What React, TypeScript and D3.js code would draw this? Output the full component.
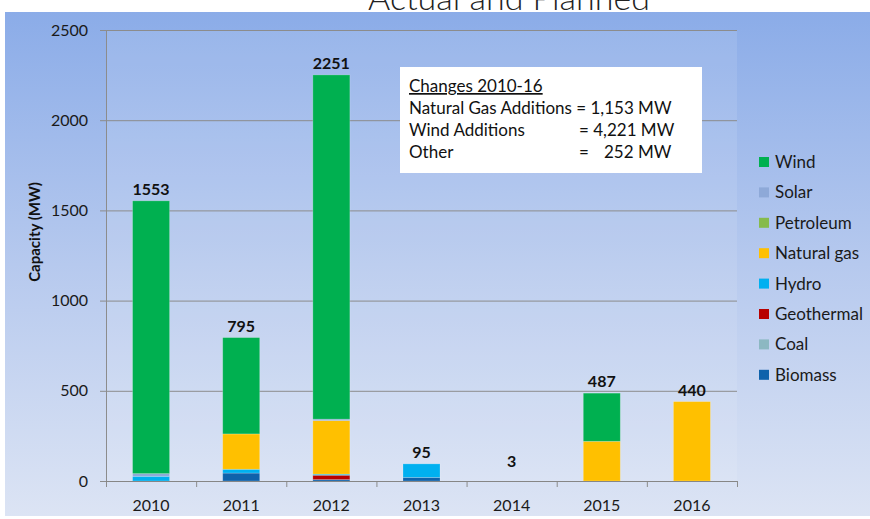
import React from "react";
import * as d3 from "d3";

const years = ["2010", "2011", "2012", "2013", "2014", "2015", "2016"];
const seriesNames = ["Biomass", "Coal", "Geothermal", "Hydro", "Natural gas", "Petroleum", "Solar", "Wind"];
const seriesColors = ["#0F62AB", "#8CB8C2", "#B80000", "#00B0F0", "#FFC000", "#86BB4C", "#8EA9D8", "#00B050"];
const biomass = [0, 44, 8, 20, 3, 0, 0];
const coal = [0, 0, 0, 0, 0, 0, 0];
const geothermal = [0, 0, 24, 0, 0, 0, 0];
const hydro = [26, 21, 6, 75, 0, 0, 0];
const naturalGas = [0, 196, 297, 0, 0, 220, 440];
const petroleum = [0, 0, 0, 0, 0, 0, 0];
const solar = [15, 0, 8, 0, 0, 0, 0];
const wind = [1512, 534, 1908, 0, 0, 267, 0];
const totals = [1553, 795, 2251, 95, 3, 487, 440];
const yTicks = [0, 500, 1000, 1500, 2000, 2500];
const legendOrder = ["Wind", "Solar", "Petroleum", "Natural gas", "Hydro", "Geothermal", "Coal", "Biomass"];
const boxTitle = "Changes 2010-16";
const boxLines = [
  ["Natural Gas Additions", "= 1,153 MW"],
  ["Wind Additions", "= 4,221 MW"],
  ["Other", "=", "252 MW"],
];

const FONT = "Lato, 'Liberation Sans', sans-serif";

export default function App() {
  const W = 870, H = 519;
  const left = 106, right = 737, top = 30, bottom = 481;
  const x = d3.scaleBand<string>().domain(years).range([left, right]).paddingInner(0).paddingOuter(0);
  const y = d3.scaleLinear().domain([0, 2500]).range([bottom, top]);
  const barW = 37;

  const table = years.map((yr, i) => ({
    year: yr,
    Biomass: biomass[i],
    Coal: coal[i],
    Geothermal: geothermal[i],
    Hydro: hydro[i],
    "Natural gas": naturalGas[i],
    Petroleum: petroleum[i],
    Solar: solar[i],
    Wind: wind[i],
  }));
  const stacked = d3.stack<any>().keys(seriesNames)(table);
  const colorOf = d3.scaleOrdinal<string, string>().domain(seriesNames).range(seriesColors);

  return (
    <svg width={W} height={H} style={{ display: "block", position: "absolute", left: 0, top: 0 }}>
      <defs>
        <linearGradient id="bg" x1="0" y1="0" x2="0" y2="1">
          <stop offset="0" stopColor="#8BACE8" />
          <stop offset="0.5" stopColor="#B6C9EE" />
          <stop offset="1" stopColor="#DCE4F4" />
        </linearGradient>
      </defs>
      <rect x={0} y={0} width={W} height={H} fill="#fff" />
      <text x={509} y={10} textAnchor="middle" fontFamily={FONT} fontSize={34} fontWeight={300} fill="#222">
        Actual and Planned
      </text>
      <rect x={5} y={12} width={W - 5} height={504} fill="url(#bg)" />
      <rect x={left} y={top} width={right - left} height={bottom - top} fill="#fff" opacity={0.1} />
      {yTicks.map((t) => (
        <g key={t}>
          {t > 0 && <line x1={left} x2={right} y1={y(t) + 0.5} y2={y(t) + 0.5} stroke="#8C8C8C" strokeWidth={1} />}
          <line x1={left - 6} x2={left} y1={y(t) + 0.5} y2={y(t) + 0.5} stroke="#8C8C8C" />
          <text x={left - 18} y={y(t) + 5.5} textAnchor="end" fontFamily={FONT} fontSize={16} fill="#1a1a1a">
            {t}
          </text>
        </g>
      ))}
      <line x1={left + 0.5} x2={left + 0.5} y1={top} y2={bottom + 6} stroke="#8C8C8C" />
      {years.map((yr) => (
        <line key={yr} x1={(x(yr) as number) + x.bandwidth() + 0.5} x2={(x(yr) as number) + x.bandwidth() + 0.5} y1={bottom} y2={bottom + 6} stroke="#8C8C8C" />
      ))}
      {stacked.map((s) => (
        <g key={s.key}>
          {s.map((d, i) => {
            const h = y(d[0]) - y(d[1]);
            if (h <= 1) return null;
            const cx = (x(years[i]) as number) + x.bandwidth() / 2;
            return (
              <rect key={i} x={cx - barW / 2} y={y(d[1])} width={barW} height={h} fill={colorOf(s.key)} stroke="rgba(255,255,255,0.25)" strokeWidth={0.8} />
            );
          })}
        </g>
      ))}
      <line x1={left} x2={right} y1={bottom + 0.5} y2={bottom + 0.5} stroke="#868686" strokeWidth={1.2} />
      {years.map((yr, i) => {
        const cx = (x(yr) as number) + x.bandwidth() / 2;
        const ly = Math.min(y(totals[i]) - 6, bottom - 14);
        return (
          <g key={yr}>
            <text x={cx} y={ly} textAnchor="middle" fontFamily={FONT} fontSize={16} fontWeight={700} fill="#111">
              {totals[i]}
            </text>
            <text x={cx} y={511} textAnchor="middle" fontFamily={FONT} fontSize={16} fill="#1a1a1a">
              {yr}
            </text>
          </g>
        );
      })}
      <text transform={`translate(40,${232}) rotate(-90)`} textAnchor="middle" fontFamily={FONT} fontSize={15} fontWeight={700} fill="#111">
        Capacity (MW)
      </text>
      {legendOrder.map((name, i) => {
        const cy = 162 + i * 30.4;
        return (
          <g key={name}>
            <rect x={759} y={cy - 5} width={10} height={10} fill={colorOf(name)} />
            <text x={775} y={cy + 6} fontFamily={FONT} fontSize={17} fill="#1a1a1a">
              {name}
            </text>
          </g>
        );
      })}
      <rect x={400} y={67} width={302} height={106} fill="#fff" />
      <g fontFamily={FONT} fontSize={17} fill="#111">
        <text x={409} y={92} textDecoration="underline">{boxTitle}</text>
        <text x={409} y={114}>{boxLines[0][0]} {boxLines[0][1]}</text>
        <text x={409} y={136}>{boxLines[1][0]}</text>
        <text x={579} y={136}>{boxLines[1][1]}</text>
        <text x={409} y={158}>{boxLines[2][0]}</text>
        <text x={579} y={158}>{boxLines[2][1]}</text>
        <text x={604} y={158}>{boxLines[2][2]}</text>
      </g>
    </svg>
  );
}
